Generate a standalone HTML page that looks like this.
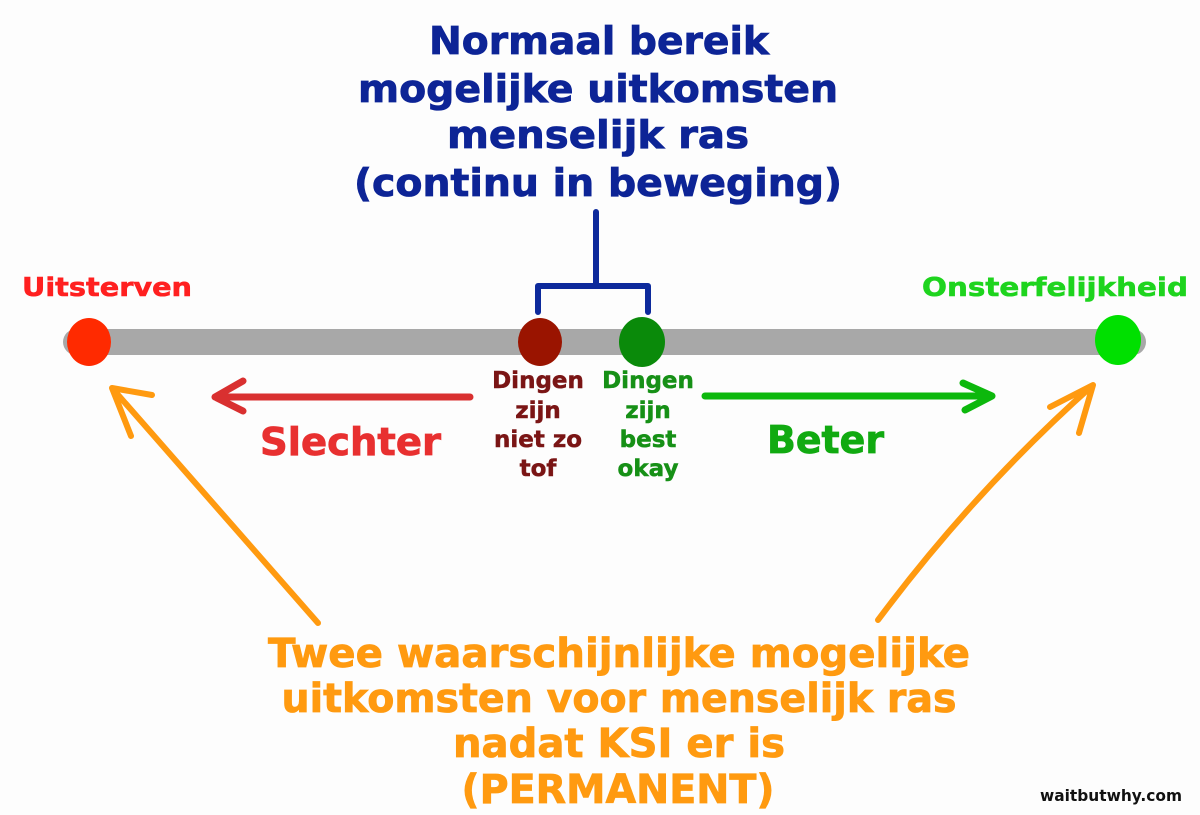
<!DOCTYPE html>
<html><head><meta charset="utf-8"><style>
html,body{margin:0;padding:0;background:#fdfdfd;}
svg{display:block;}
text{font-family:"DejaVu Sans","Liberation Sans",sans-serif;font-weight:bold;}
</style></head><body>
<svg width="1200" height="815" viewBox="0 0 1200 815" xmlns="http://www.w3.org/2000/svg">
<rect width="1200" height="815" fill="#fdfdfd"/>
<g fill="#0d2496" stroke="#0d2496" stroke-width="0.8" font-size="38" text-anchor="middle">
<text x="599" y="54" textLength="340" lengthAdjust="spacingAndGlyphs">Normaal bereik</text>
<text x="598" y="102" textLength="480" lengthAdjust="spacingAndGlyphs">mogelijke uitkomsten</text>
<text x="598" y="148" textLength="302" lengthAdjust="spacingAndGlyphs">menselijk ras</text>
<text x="598" y="196" textLength="488" lengthAdjust="spacingAndGlyphs">(continu in beweging)</text>
</g>
<path d="M596 212 V284 M538 312 V286 H648 V312" fill="none" stroke="#0d2a9c" stroke-width="6" stroke-linecap="round" stroke-linejoin="round"/>
<line x1="76" y1="342" x2="1133" y2="342" stroke="#a8a8a8" stroke-width="26" stroke-linecap="round"/>
<ellipse cx="89" cy="342" rx="22" ry="24" fill="#ff2a00"/>
<ellipse cx="540" cy="342" rx="22" ry="24" fill="#9a1400"/>
<ellipse cx="642" cy="342" rx="23" ry="25" fill="#0a8a0a"/>
<ellipse cx="1118" cy="340" rx="23" ry="25" fill="#00e000"/>
<text x="22" y="296" font-size="26" fill="#ff2020" stroke="#ff2020" stroke-width="0.6" textLength="170" lengthAdjust="spacingAndGlyphs">Uitsterven</text>
<text x="922" y="296" font-size="26" fill="#1ed41e" stroke="#1ed41e" stroke-width="0.6" textLength="266" lengthAdjust="spacingAndGlyphs">Onsterfelijkheid</text>
<g font-size="23" text-anchor="middle" fill="#7a1515" stroke="#7a1515" stroke-width="0.5">
<text x="538" y="388">Dingen</text><text x="538" y="418">zijn</text><text x="538" y="447">niet zo</text><text x="538" y="476">tof</text>
</g>
<g font-size="23" text-anchor="middle" fill="#169016" stroke="#169016" stroke-width="0.5">
<text x="648" y="388">Dingen</text><text x="648" y="418">zijn</text><text x="648" y="447">best</text><text x="648" y="476">okay</text>
</g>
<path d="M470 397 H215 M243 381 L215 397 L243 411" fill="none" stroke="#d93030" stroke-width="7" stroke-linecap="round" stroke-linejoin="round"/>
<text x="260" y="455" font-size="38" fill="#e83030" stroke="#e83030" stroke-width="0.8" textLength="181" lengthAdjust="spacingAndGlyphs">Slechter</text>
<path d="M705 396 H992 M963 383 L992 396 L965 410" fill="none" stroke="#0cb80c" stroke-width="7" stroke-linecap="round" stroke-linejoin="round"/>
<text x="767" y="453" font-size="38" fill="#11aa11" stroke="#11aa11" stroke-width="0.8" textLength="117" lengthAdjust="spacingAndGlyphs">Beter</text>
<g fill="none" stroke="#ff9a10" stroke-width="6" stroke-linecap="round" stroke-linejoin="round">
<path d="M318 623 Q210 500 112 388 M152 395 L112 388 L131 436"/>
<path d="M878 620 Q975 490 1093 385 M1050 407 L1093 385 L1079 433"/>
</g>
<g fill="#ff9a10" stroke="#ff9a10" stroke-width="0.8" font-size="40" text-anchor="middle">
<text x="619" y="667" textLength="702" lengthAdjust="spacingAndGlyphs">Twee waarschijnlijke mogelijke</text>
<text x="619" y="712" textLength="675" lengthAdjust="spacingAndGlyphs">uitkomsten voor menselijk ras</text>
<text x="619" y="757" textLength="332" lengthAdjust="spacingAndGlyphs">nadat KSI er is</text>
<text x="618" y="803" textLength="313" lengthAdjust="spacingAndGlyphs">(PERMANENT)</text>
</g>
<text x="1040" y="801" font-size="16" fill="#111" textLength="142" lengthAdjust="spacingAndGlyphs">waitbutwhy.com</text>
</svg>
</body></html>
